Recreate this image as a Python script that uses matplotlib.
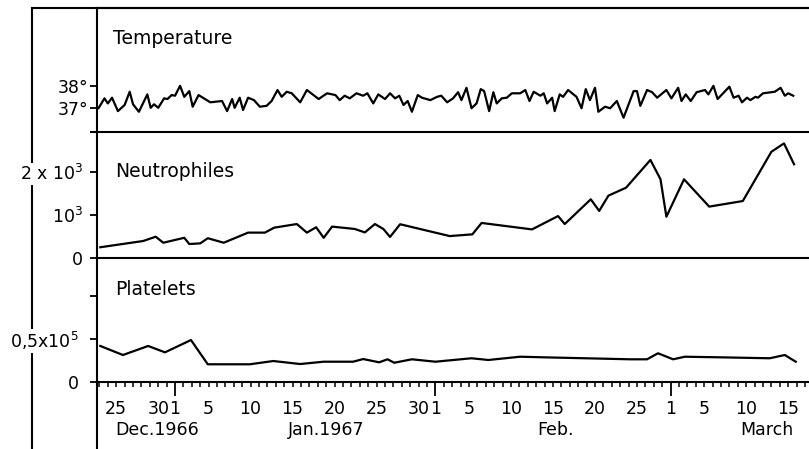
import matplotlib
matplotlib.use('Agg')
import matplotlib.pyplot as plt
from matplotlib.lines import Line2D
from matplotlib.ticker import FixedLocator, FuncFormatter

plt.rcParams['font.family'] = ['DejaVu Sans']
plt.rcParams['mathtext.fontset'] = 'dejavusans'

# x values: days relative to 1 January 1967
temp_day = [-9.1, -8.4, -8.0, -7.5, -6.8, -6.0, -5.4, -5.0, -4.3, -3.3, -2.9, -2.5, -2.0, -1.3, -0.9, -0.4,
            0.0, 0.6, 1.1, 1.7, 2.1, 2.8, 4.2, 5.6, 6.2, 6.8, 7.1, 7.7, 8.1, 8.7, 9.4, 10.1, 10.9, 11.5,
            12.2, 12.7, 13.3, 13.9, 14.9, 15.7, 17.1, 18.1, 19.1, 19.6, 20.2, 20.8, 21.6, 22.4, 22.9,
            23.6, 24.2, 25.0, 25.6, 26.2, 26.7, 27.2, 27.7, 28.2, 28.9, 29.4, 30.4, 31.2, 31.7, 32.4,
            33.1, 33.7, 34.1, 34.7, 35.3, 35.9, 36.4, 36.8, 37.4, 37.9, 38.3, 38.9, 39.5, 40.1, 41.1,
            41.7, 42.2, 42.7, 43.5, 43.9, 44.3, 44.9, 45.2, 45.8, 46.2, 46.8, 47.8, 48.4, 48.9, 49.4,
            50.0, 50.4, 51.2, 51.8, 52.6, 53.4, 54.6, 55.0, 55.4, 56.2, 56.8, 57.4, 58.5, 59.1, 59.9,
            60.3, 60.8, 61.4, 62.1, 63.1, 63.5, 64.1, 64.6, 66.0, 66.5, 67.1, 67.5, 68.1, 68.5, 69.1,
            69.4, 70.0, 71.4, 72.1, 72.6, 73.0, 73.6]
temp_val = [37.00, 37.44, 37.21, 37.47, 36.86, 37.14, 37.74, 37.17, 36.83, 37.62, 37.01, 37.17, 37.01, 37.44, 37.41, 37.59,
            37.56, 38.01, 37.51, 37.77, 37.06, 37.59, 37.26, 37.32, 36.86, 37.41, 37.01, 37.47, 36.91, 37.47, 37.36, 37.06, 37.10, 37.32,
            37.82, 37.51, 37.74, 37.67, 37.26, 37.82, 37.41, 37.67, 37.59, 37.36, 37.56, 37.44, 37.67, 37.56, 37.67,
            37.21, 37.62, 37.41, 37.67, 37.44, 37.56, 37.14, 37.32, 36.83, 37.59, 37.47, 37.36, 37.51, 37.56, 37.26,
            37.44, 37.72, 37.36, 37.92, 36.99, 37.21, 37.86, 37.77, 36.86, 37.72, 37.21, 37.44, 37.47, 37.67, 37.67,
            37.82, 37.32, 37.74, 37.56, 37.67, 37.21, 37.47, 36.86, 37.62, 37.51, 37.82, 37.51, 36.99, 37.86, 37.36,
            37.92, 36.83, 37.06, 36.99, 37.32, 36.56, 37.77, 37.77, 37.10, 37.82, 37.72, 37.47, 37.82, 37.44, 37.92,
            37.32, 37.62, 37.32, 37.72, 37.82, 37.62, 38.01, 37.41, 37.97, 37.47, 37.56, 37.26, 37.47, 37.36, 37.51,
            37.47, 37.67, 37.74, 37.92, 37.56, 37.67, 37.56]

neut_day = [-8.9, -3.8, -2.3, -1.4, 1.1, 1.7, 3.0, 3.9, 5.8, 8.7, 10.7, 11.8, 14.5, 15.7, 16.8, 17.7, 18.7,
            21.4, 22.6, 23.8, 24.8, 25.6, 26.8, 32.7, 35.4, 36.5, 42.5, 45.6, 46.4, 49.5, 50.5, 51.6,
            53.7, 56.6, 57.8, 58.5, 60.6, 63.6, 67.6, 71.0, 72.5, 73.7]
neut_val = [250, 395, 495, 355, 470, 325, 340, 460, 355, 590, 590, 705, 790, 590, 715, 470, 730,
            675, 595, 790, 675, 490, 785, 510, 550, 815, 665, 975, 790, 1365, 1095, 1450,
            1635, 2280, 1830, 960, 1830, 1195, 1325, 2470, 2665, 2180]

plat_day = [-8.9, -6.2, -3.2, -1.2, 1.9, 3.9, 8.9, 11.7, 14.9, 17.7, 21.2, 22.4, 24.3, 25.3, 26.1, 28.2,
            31.0, 35.3, 37.3, 41.1, 43.9, 54.2, 56.2, 57.5, 59.3, 60.7, 64.9, 70.8, 72.6, 73.9]
plat_val = [41900, 31400, 41900, 34500, 48800, 20600, 20600, 24400, 20900, 23600, 23600, 26700, 22900, 26400, 22400, 26400,
            23600, 27600, 25600, 29400, 28700, 26400, 26400, 33400, 26400, 29400, 28700, 27600, 31400, 23600]

x_label_days = [-7, -2, 4, 9, 14, 19, 24, 29, 35, 40, 45, 50, 55, 63, 68, 73]
x_label_text = ['25', '30', '5', '10', '15', '20', '25', '30', '5', '10', '15', '20', '25', '5', '10', '15']
month_start_days = [0, 31, 59]
month_start_text = ['1', '1', '1']
month_names = ['Dec.1966', 'Jan.1967', 'Feb.', 'March']
month_name_days = [-7.1, 13.45, 43.1, 67.3]

temp_ticks = [37, 38]
temp_tick_text = ['37°', '38°']
neut_ticks = [0, 1000, 2000]
neut_tick_text = ['0', '10$^3$', '2 x 10$^3$']
plat_ticks = [0, 50000, 100000]
plat_tick_text = ['0', '0,5x10$^5$', '']

W, H = 809, 449
fig = plt.figure(figsize=(W / 100, H / 100), dpi=100)


def fx(px):
    return px / W


def fy(py):
    return 1 - py / H


XL = (-9.29, 75.48)
LW = 1.6
FS_TICK = 12.5
FS_LAB = 13.5

ax_t = fig.add_axes([fx(97), fy(132), 1 - fx(97), (132 - 8) / H])
ax_n = fig.add_axes([fx(97), fy(258), 1 - fx(97), (258 - 132) / H])
ax_p = fig.add_axes([fx(97), fy(382), 1 - fx(97), (382 - 258) / H])

for ax in (ax_t, ax_n, ax_p):
    ax.set_facecolor('none')
    ax.set_xlim(*XL)
    for s in ax.spines.values():
        s.set_linewidth(1.5)
    ax.spines['right'].set_visible(False)
    ax.tick_params(axis='y', direction='out', length=5, width=1.3, pad=5, labelsize=FS_TICK)

ax_t.tick_params(axis='y', pad=1.5)
ax_p.tick_params(axis='y', pad=8)

ax_t.plot(temp_day, temp_val, color='black', lw=LW)
ax_n.plot(neut_day, neut_val, color='black', lw=LW)
ax_p.plot(plat_day, plat_val, color='black', lw=LW)

ax_t.set_ylim(35.91, 41.55)
ax_n.set_ylim(0, 2930)
ax_p.set_ylim(0, 144200)

ax_t.set_yticks(temp_ticks, temp_tick_text)
ax_n.set_yticks(neut_ticks, neut_tick_text)
ax_p.set_yticks(plat_ticks, plat_tick_text)

ax_t.spines['bottom'].set_visible(False)
ax_n.spines['top'].set_visible(False)
ax_p.spines['top'].set_visible(False)

for ax in (ax_t, ax_n):
    ax.set_xticks([])

# x axis on platelet panel
minor_days = [d for d in range(-9, 76) if d not in month_start_days]
lab_map = dict(zip(x_label_days, x_label_text))
ax_p.xaxis.set_major_locator(FixedLocator(month_start_days))
ax_p.set_xticklabels(month_start_text)
ax_p.xaxis.set_minor_locator(FixedLocator(minor_days))
ax_p.xaxis.set_minor_formatter(FuncFormatter(lambda v, p: lab_map.get(int(round(v)), '')))
ax_p.tick_params(axis='x', which='major', direction='out', length=10, width=1.3, pad=2.9, labelsize=FS_TICK)
ax_p.tick_params(axis='x', which='minor', direction='out', length=3.6, width=1.1, pad=9.4, labelsize=FS_TICK)

for d, name in zip(month_name_days, month_names):
    ax_p.text(d, -0.387, name, transform=ax_p.get_xaxis_transform(), ha='left', va='center',
              fontsize=FS_TICK)

ax_t.text(0.0225, 0.758, 'Temperature', transform=ax_t.transAxes, va='center', fontsize=FS_LAB)
ax_n.text(0.025, 0.685, 'Neutrophiles', transform=ax_n.transAxes, va='center', fontsize=FS_LAB)
ax_p.text(0.025, 0.742, 'Platelets', transform=ax_p.transAxes, va='center', fontsize=FS_LAB)

for ax in (ax_t, ax_n, ax_p):
    for lab in ax.get_yticklabels():
        lab.set_bbox(dict(facecolor='white', edgecolor='none', pad=1))

# frame lines
frame = [
    ([fx(32), fx(32)], [fy(8), 0]),
    ([fx(32), 1], [fy(8), fy(8)]),
    ([fx(97), fx(97)], [fy(382), 0]),
    ([fx(91), 1], [fy(132), fy(132)]),
]
for xs, ys in frame:
    fig.add_artist(Line2D(xs, ys, color='black', lw=1.5, transform=fig.transFigure, zorder=-1))

fig.savefig('out.png', dpi=100)
